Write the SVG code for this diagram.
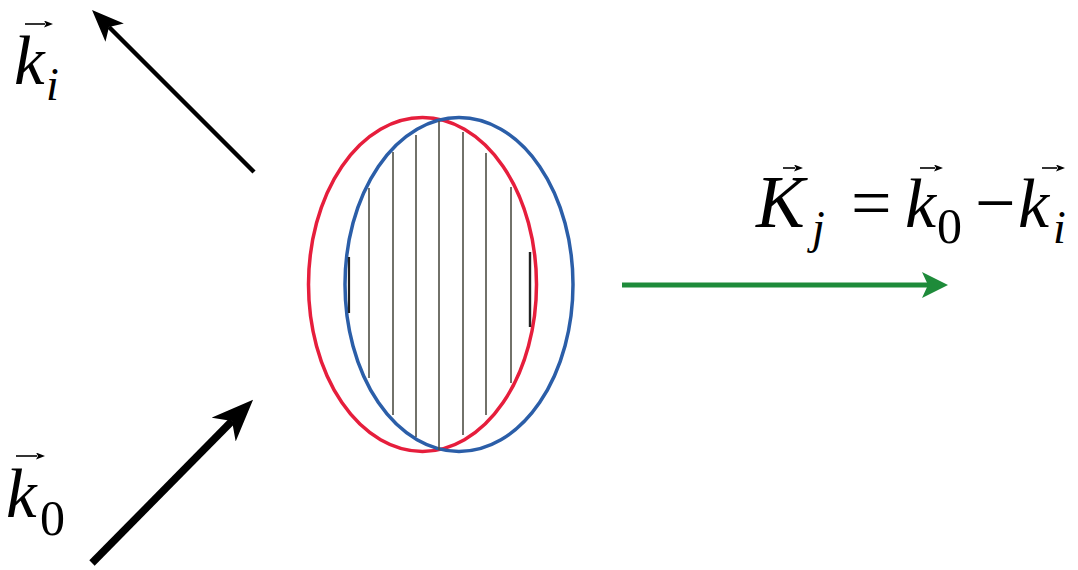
<svg xmlns="http://www.w3.org/2000/svg" width="1078" height="570" viewBox="0 0 1078 570">
<style>
.m{font-family:'Liberation Serif','Times New Roman',serif;font-style:italic;fill:#000}
.u{font-family:'Liberation Serif','Times New Roman',serif;font-style:normal;fill:#000}
.hatch{stroke:#4f4f45;stroke-width:1.6;fill:none}
.vec{stroke:#000;stroke-width:1.6;fill:none}
</style>
<defs>
<marker id="hKi" markerUnits="userSpaceOnUse" markerWidth="40" markerHeight="30" refX="8" refY="13" orient="auto" viewBox="0 0 40 30">
<path d="M0,0 L32,13 L0,26 L8,13 Z" fill="#000"/>
</marker>
<marker id="hK0" markerUnits="userSpaceOnUse" markerWidth="50" markerHeight="40" refX="12" refY="17" orient="auto" viewBox="0 0 50 40">
<path d="M0,0 L42,17 L0,34 L12,17 Z" fill="#000"/>
</marker>
<marker id="hG" markerUnits="userSpaceOnUse" markerWidth="34" markerHeight="30" refX="6" refY="13" orient="auto" viewBox="0 0 34 30">
<path d="M0,0 L26,13 L0,26 L6,13 Z" fill="#1e8b3a"/>
</marker>
<marker id="hv" markerUnits="userSpaceOnUse" markerWidth="10" markerHeight="8" refX="1" refY="3.5" orient="auto" viewBox="0 0 10 8">
<path d="M0,0 L9,3.5 L0,7 L2,3.5 Z" fill="#000"/>
</marker>
</defs>

<g id="target">
<ellipse id="red-ellipse" cx="422.5" cy="284.5" rx="114" ry="167" fill="none" stroke="#e61e3c" stroke-width="3.5"/>
<ellipse id="blue-ellipse" cx="459" cy="284.5" rx="114" ry="167" fill="none" stroke="#2b5ea8" stroke-width="3.5"/>
<g id="hatching" class="hatch">
<line x1="349" y1="257" x2="349" y2="313" stroke="#222" stroke-width="2.2"/>
<line x1="369" y1="188" x2="369" y2="378"/>
<line x1="393" y1="152" x2="393" y2="415"/>
<line x1="416" y1="135" x2="416" y2="437"/>
<line x1="439" y1="121" x2="439" y2="450"/>
<line x1="463" y1="132" x2="463" y2="435"/>
<line x1="486" y1="153" x2="486" y2="415"/>
<line x1="511" y1="187" x2="511" y2="383"/>
<line x1="530" y1="252" x2="530" y2="327" stroke="#222" stroke-width="2.4"/>
</g>
</g>

<g id="connectors">
<line id="arrow-ki" x1="254" y1="172" x2="109" y2="27" stroke="#000" stroke-width="4.5" marker-end="url(#hKi)"/>
<line id="arrow-k0" x1="92" y1="563" x2="232" y2="421" stroke="#000" stroke-width="7.5" marker-end="url(#hK0)"/>
<line id="arrow-Kj" x1="622" y1="285" x2="928" y2="285" stroke="#1e8b3a" stroke-width="5" marker-end="url(#hG)"/>
</g>

<g id="label-ki">
<text class="m" x="14" y="84" font-size="69">k</text>
<text class="m" x="46" y="100" font-size="46">i</text>
<line class="vec" x1="25" y1="24" x2="45" y2="24" marker-end="url(#hv)"/>
</g>

<g id="label-k0">
<text class="m" x="6" y="517" font-size="69">k</text>
<text class="u" x="40" y="535" font-size="50">0</text>
<line class="vec" x1="16" y1="456" x2="37" y2="456" marker-end="url(#hv)"/>
</g>

<g id="label-Kj">
<text class="m" x="756" y="227" font-size="73">K</text>
<text class="m" x="812" y="243" font-size="46">j</text>
<text class="u" x="851" y="227" font-size="72">=</text>
<text class="m" x="905" y="227" font-size="70">k</text>
<text class="u" x="937" y="243" font-size="50">0</text>
<text class="u" x="975" y="227" font-size="72">−</text>
<text class="m" x="1018" y="227" font-size="70">k</text>
<text class="m" x="1053" y="243" font-size="46">i</text>
<line class="vec" x1="783" y1="168" x2="795" y2="168" marker-end="url(#hv)"/>
<line class="vec" x1="920" y1="168" x2="935" y2="168" marker-end="url(#hv)"/>
<line class="vec" x1="1042" y1="168" x2="1057" y2="168" marker-end="url(#hv)"/>
</g>
</svg>
